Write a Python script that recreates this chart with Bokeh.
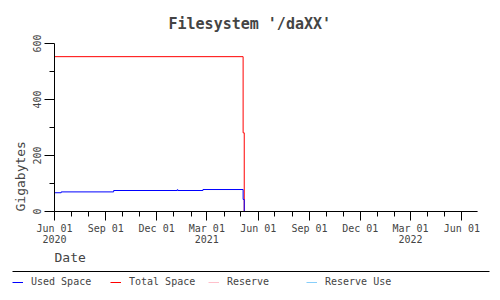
import pandas as pd
from bokeh.plotting import figure
from bokeh.layouts import column
from bokeh.models import Range1d, FixedTicker, Legend, LegendItem, Title
from bokeh.embed import file_html
from bokeh.resources import INLINE

# ---- data ----
used_dates = ["2020-06-01", "2020-06-13", "2020-09-15", "2021-01-07", "2021-01-08",
              "2021-02-22", "2021-05-05", "2021-05-07", "2022-06-29"]
used_gb = [67, 70, 75, 78, 75, 78.5, 43, 0, 0]

total_dates = ["2020-06-01", "2021-05-05", "2021-05-07", "2022-06-29"]
total_gb = [553, 281, 0, 0]

# no visible values for these two series in the reference
reserve_dates = []
reserve_gb = []
reserve_use_dates = []
reserve_use_gb = []

series_names = ["Used Space", "Total Space", "Reserve", "Reserve Use"]
series_colors = ["#0000ff", "#ff0000", "#ffc0cb", "#87cefa"]

x_start = "2020-06-01"
x_end = "2022-06-29"
x_major_dates = ["2020-06-01", "2020-09-01", "2020-12-01", "2021-03-01", "2021-06-01",
                 "2021-09-01", "2021-12-01", "2022-03-01", "2022-06-01"]
x_major_labels = ["Jun 01\n2020", "Sep 01", "Dec 01", "Mar 01\n2021", "Jun 01",
                  "Sep 01", "Dec 01", "Mar 01\n2022", "Jun 01"]
x_minor_dates = [d.strftime("%Y-%m-%d") for d in pd.date_range("2020-06-01", "2022-06-01", freq="MS")]
y_major = [0, 200, 400, 600]
y_minor = [100, 300, 500]

FONT = "DejaVu Sans Mono"


def ms(d):
    return pd.Timestamp(d).value / 1e6


p = figure(width=500, height=266, x_axis_type="datetime",
           x_range=Range1d(pd.Timestamp(x_start), pd.Timestamp(x_end)),
           y_range=Range1d(0, 600),
           output_backend="svg", toolbar_location=None,
           min_border_left=54, min_border_right=23, min_border_top=43, min_border_bottom=55,
           title="Filesystem '/daXX'")
p.frame_align = False
p.outline_line_color = None
p.grid.visible = False
p.background_fill_color = "white"
p.border_fill_color = "white"

p.title.align = "left"
p.title.offset = 114
p.title.text_font = FONT
p.title.text_font_size = "15px"
p.title.text_font_style = "bold"
p.title.standoff = 21

series = [(used_dates, used_gb), (total_dates, total_gb),
          (reserve_dates, reserve_gb), (reserve_use_dates, reserve_use_gb)]
# draw order: reserve, reserve use, total, used (used on top)
for i in [2, 3, 1, 0]:
    d, v = series[i]
    p.step(x=pd.to_datetime(d), y=v, mode="after", line_color=series_colors[i], line_width=1)

major_ms = [ms(d) for d in x_major_dates]
xa = p.xaxis[0]
xa.ticker = FixedTicker(ticks=major_ms, minor_ticks=[ms(d) for d in x_minor_dates])
xa.major_label_overrides = dict(zip(major_ms, x_major_labels))
xa.major_tick_in = 0
xa.major_tick_out = 9
xa.minor_tick_in = 0
xa.minor_tick_out = 5
xa.major_label_standoff = 2
xa.major_label_text_font = FONT
xa.major_label_text_font_size = "10px"
xa.major_label_text_line_height = 1.0

ya = p.yaxis[0]
ya.ticker = FixedTicker(ticks=y_major, minor_ticks=y_minor)
ya.major_label_orientation = "vertical"
ya.major_tick_in = 0
ya.major_tick_out = 10
ya.minor_tick_in = 0
ya.minor_tick_out = 5
ya.major_label_standoff = 4
ya.major_label_text_font = FONT
ya.major_label_text_font_size = "10px"

p.add_layout(Title(text="Date", align="left", text_font=FONT, text_font_size="13px",
                   text_font_style="normal", standoff=0), "below")
p.add_layout(Title(text="Gigabytes", align="left", text_font=FONT, text_font_size="13px",
                   text_font_style="normal", standoff=4), "left")

# ---- key below the chart ----
pk = figure(width=500, height=34, x_range=Range1d(0, 1), y_range=Range1d(0, 1),
            output_backend="svg", toolbar_location=None,
            x_axis_location="above", y_axis_location=None,
            min_border_left=12, min_border_right=11, min_border_top=5, min_border_bottom=0)
pk.frame_align = False
pk.outline_line_color = None
pk.grid.visible = False
ka = pk.xaxis[0]
ka.ticker = FixedTicker(ticks=[])
ka.major_tick_out = 0
ka.major_tick_in = 0
ka.minor_tick_out = 0
ka.minor_tick_in = 0
ka.major_label_text_alpha = 0
ka.axis_line_color = "black"

items = []
for name, color in zip(series_names, series_colors):
    # key sample renderer (no drawable point, only used for the key swatch)
    r = pk.line(x=[float("nan")], y=[float("nan")], line_color=color, line_width=1)
    items.append(LegendItem(label=name, renderers=[r]))

legend = Legend(items=items, orientation="horizontal", location=(0, 13),
                glyph_width=11, glyph_height=10, label_standoff=8, label_width=79, label_height=10,
                spacing=0, padding=0, margin=0, border_line_color=None, background_fill_alpha=0,
                label_text_font=FONT, label_text_font_size="10px")
pk.add_layout(legend)

open("out.html", "w").write(file_html(column(p, pk, spacing=0), INLINE))
